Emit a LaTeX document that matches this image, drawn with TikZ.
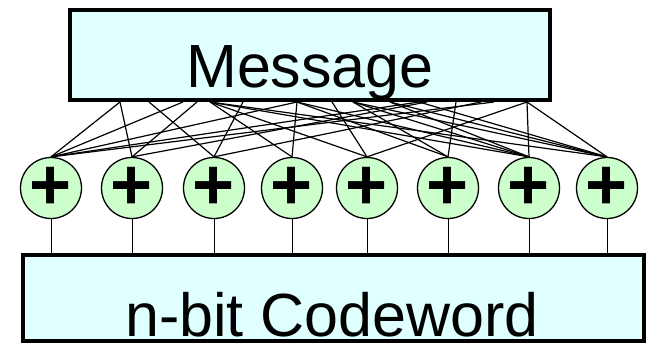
\documentclass[tikz,border=0pt]{standalone}
\usepackage{fontspec}
\setmainfont{Liberation Sans}
\usepackage{xcolor}
\usetikzlibrary{positioning, calc}

\definecolor{boxcyan}{HTML}{E0FFFF}
\definecolor{xorgreen}{HTML}{CCFFCC}

\tikzset{
    bigbox/.style={draw, line width=4pt, fill=boxcyan, inner sep=0pt},
    bigtext/.style={inner sep=0pt, font=\fontsize{61}{61}\selectfont},
    xorgate/.style={circle, draw, line width=1.3pt, fill=xorgreen,
        minimum size=61pt, inner sep=0pt, font=\fontsize{72}{72}\selectfont\bfseries},
    wire/.style={line width=1.2pt},
    tap/.style={line width=1pt}
}

\begin{document}
\begin{tikzpicture}[x=1pt, y=-1pt]
    \useasboundingbox (0,0) rectangle (650,348);

    % message and codeword registers
    \node[bigbox, minimum width=480pt, minimum height=90pt] (msg) at (310,55) {};
    \node[bigtext, anchor=base] (msglabel) at (310,87) {Message};
    \node[bigbox, minimum width=621pt, minimum height=86pt] (code) at (333.5,298) {};
    \node[bigtext, anchor=base] (codelabel) at (332,336) {n-bit Codeword};

    % xor gates
    \foreach \x [count=\i] in {51,132,214,292,367,448,529,607}
        \node[xorgate] (c\i) at (\x,188) {\raisebox{-4pt}{+}};

    % taps on the bottom of the message
    \foreach \x [count=\i] in {120,149,183,197,210,243,297,332,353,390,419,427,456,481,494,527}
        \coordinate (t\i) at (\x,102);

    % generator wiring
    \foreach \t/\c in {1/1, 1/2, 2/3, 3/1, 4/2, 5/4, 5/5, 5/7, 5/8, 6/3,
                       7/4, 7/1, 7/7, 7/6, 8/5, 9/6, 9/8, 9/7, 10/7, 10/8,
                       11/1, 11/8, 12/2, 13/6, 14/3, 15/1, 16/7, 16/8, 16/5}
        \draw[wire] (t\t) -- (c\c.north);

    % gate outputs into the codeword
    \foreach \i in {1,...,8}
        \draw[tap] (c\i.south) -- (c\i.south |- code.north);
\end{tikzpicture}
\end{document}
